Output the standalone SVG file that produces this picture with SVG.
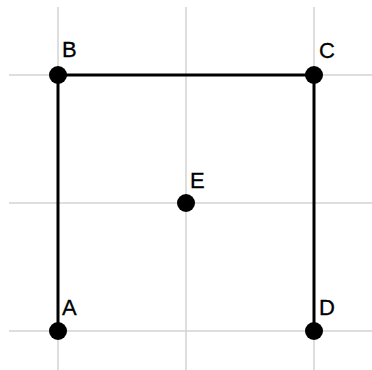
<svg xmlns="http://www.w3.org/2000/svg" width="372" height="370" viewBox="0 0 372 370">
<style>
.grid{stroke:#d3d3d3;stroke-width:1.5;fill:none}
.edge{stroke:#000;stroke-width:3;fill:none}
.pt{fill:#000}
.lbl{font-family:"Liberation Sans",Arial,sans-serif;font-size:22px;fill:#000;stroke:#000;stroke-width:0.3}
</style>
<rect width="372" height="370" fill="#fff"/>
<g id="grid">
<line class="grid" x1="58" y1="7" x2="58" y2="370"/>
<line class="grid" x1="186" y1="7" x2="186" y2="370"/>
<line class="grid" x1="314" y1="7" x2="314" y2="370"/>
<line class="grid" x1="9" y1="75" x2="372" y2="75"/>
<line class="grid" x1="9" y1="203" x2="372" y2="203"/>
<line class="grid" x1="9" y1="331" x2="372" y2="331"/>
</g>
<g id="connectors">
<polyline class="edge" points="58,331 58,75 314,75 314,331"/>
</g>
<g id="A"><circle class="pt" cx="58" cy="331" r="9"/><text class="lbl" x="62" y="315">A</text></g>
<g id="B"><circle class="pt" cx="58" cy="75" r="9"/><text class="lbl" x="62" y="57">B</text></g>
<g id="C"><circle class="pt" cx="314" cy="75" r="9"/><text class="lbl" x="319" y="58">C</text></g>
<g id="D"><circle class="pt" cx="314" cy="331" r="9"/><text class="lbl" x="319" y="315">D</text></g>
<g id="E"><circle class="pt" cx="186" cy="203" r="9"/><text class="lbl" x="190" y="188">E</text></g>
</svg>
